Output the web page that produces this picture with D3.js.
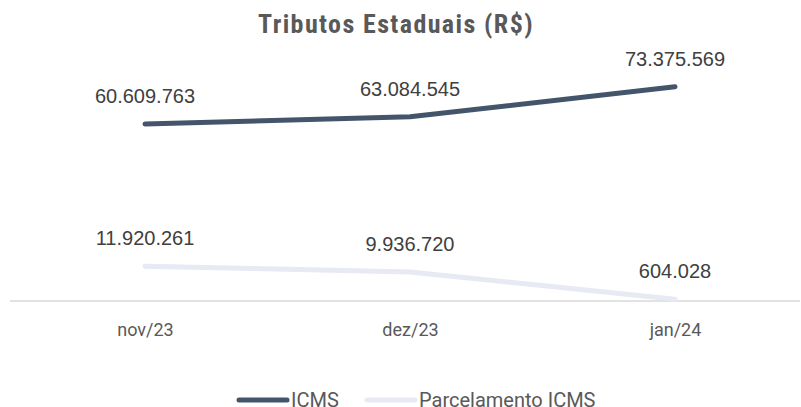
<!DOCTYPE html>
<html>
<head>
<meta charset="utf-8">
<script src="https://cdn.jsdelivr.net/npm/d3@7"></script>
<style>
  body { margin: 0; background: #fff; }
  svg { display: block; }
</style>
</head>
<body>
<svg id="chart"></svg>
<script>
'use strict';

var months = ['nov/23', 'dez/23', 'jan/24'];
var icms = [60609763, 63084545, 73375569];
var parcelamento = [11920261, 9936720, 604028];
var seriesNames = ['ICMS', 'Parcelamento ICMS'];
var seriesColors = ['#44546A', '#E7E9F3'];

var width = 801,
  height = 407,
  baseY = 301;

var svg = d3.select('#chart')
  .attr('width', width)
  .attr('height', height);

var xScale = d3.scalePoint()
  .domain(months)
  .range([145, 675]);

var yScale = d3.scaleLinear()
  .domain([0, 80000000])
  .range([baseY, baseY - 80 * 2.92]);

var fmt = function (v) {
  return d3.format(',')(v).replace(/,/g, '.');
};

svg.append('text')
  .attr('x', 396)
  .attr('y', 33)
  .attr('text-anchor', 'middle')
  .style('font-family', '"Liberation Sans Narrow", "Roboto Condensed", Roboto, sans-serif')
  .style('font-weight', 'bold')
  .style('font-size', '26px')
  .style('letter-spacing', '1.4px')
  .style('fill', '#595959')
  .text('Tributos Estaduais (R$)');

// baseline
svg.append('line')
  .attr('x1', 10)
  .attr('x2', 800)
  .attr('y1', yScale(0))
  .attr('y2', yScale(0))
  .style('stroke', '#D9D9D9')
  .style('stroke-width', 1.5);

var xAxis = d3.axisBottom(xScale).tickSize(0).tickPadding(22);
var ax = svg.append('g')
  .attr('transform', 'translate(0,' + yScale(0) + ')')
  .call(xAxis);
ax.select('.domain').remove();
ax.selectAll('text')
  .style('font-family', '"Liberation Sans Narrow", Roboto, sans-serif')
  .style('font-size', '18px')
  .style('fill', '#595959');

var line = d3.line()
  .x(function (d, i) { return xScale(months[i]); })
  .y(function (d) { return yScale(d); });

[parcelamento, icms].forEach(function (values, k) {
  var color = k === 0 ? seriesColors[1] : seriesColors[0];
  svg.append('path')
    .datum(values)
    .attr('d', line)
    .style('fill', 'none')
    .style('stroke', color)
    .style('stroke-width', 5)
    .style('stroke-linecap', 'round')
    .style('stroke-linejoin', 'round');

  svg.selectAll(null)
    .data(values)
    .enter()
    .append('text')
    .attr('x', function (d, i) { return xScale(months[i]); })
    .attr('y', function (d) { return yScale(d) - 21; })
    .attr('text-anchor', 'middle')
    .style('font-family', '"Liberation Sans", Arial, sans-serif')
    .style('font-size', '20px')
    .style('fill', '#404040')
    .text(fmt);
});

// legend
var legendX = [237, 365];
seriesNames.forEach(function (name, i) {
  var g = svg.append('g')
    .attr('transform', 'translate(' + legendX[i] + ',400)');
  g.append('line')
    .attr('x1', 2)
    .attr('x2', 50)
    .style('stroke', seriesColors[i])
    .style('stroke-width', 5)
    .style('stroke-linecap', 'round');
  g.append('text')
    .attr('x', 54)
    .attr('y', 7)
    .style('font-family', '"Liberation Sans Narrow", Roboto, sans-serif')
    .style('font-size', '20px')
    .style('fill', '#595959')
    .text(name);
});
</script>
</body>
</html>
